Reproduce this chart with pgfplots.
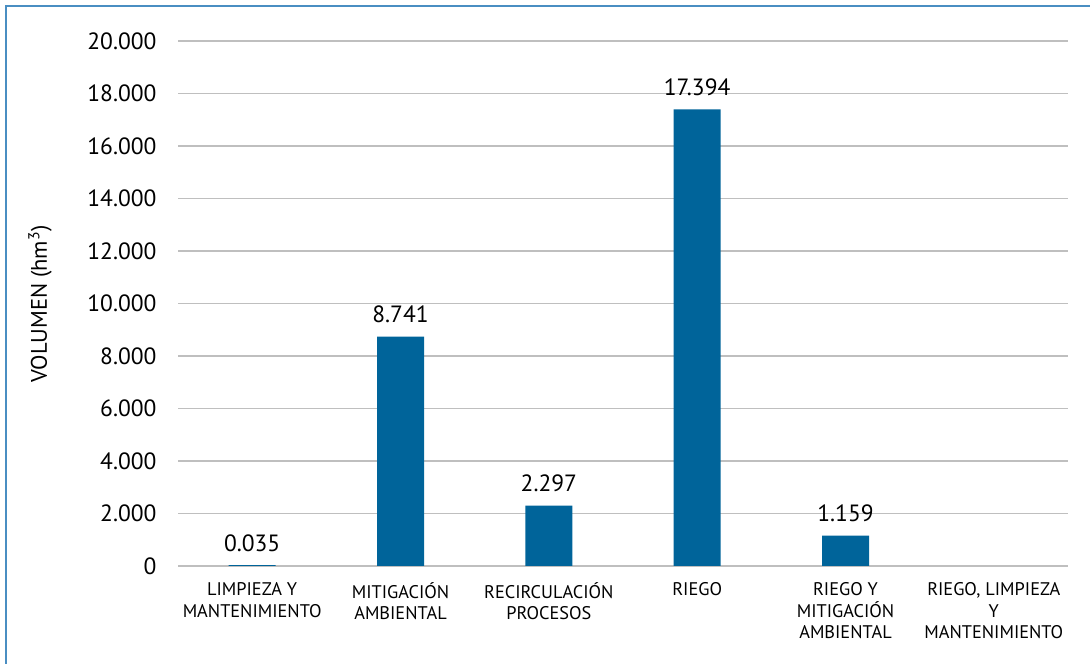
\documentclass[border=0pt]{standalone}
\usepackage{fontspec}
\setmainfont{PT Sans}
\usepackage{pgfplots}
\pgfplotsset{compat=1.18}
\definecolor{barblue}{HTML}{00649A}
\definecolor{gridgray}{HTML}{BFBFBF}
\definecolor{framecol}{HTML}{4A8EC2}

\begin{document}
\begin{tikzpicture}
\useasboundingbox (0,0) rectangle (1090bp,664bp);
\draw[framecol, line width=2bp] (6bp,0) -- (6bp,658bp) -- (1090bp,658bp);
\begin{axis}[
    at={(178bp,98bp)}, anchor=south west,
    scale only axis,
    width=890bp, height=525bp,
    ybar, bar width=47bp,
    xmin=-0.5, xmax=5.5,
    ymin=0, ymax=20000,
    xtick={0,1,2,3,4,5},
    xticklabels={LIMPIEZA Y\\MANTENIMIENTO, MITIGACIÓN\\AMBIENTAL, RECIRCULACIÓN\\PROCESOS, RIEGO, RIEGO Y\\MITIGACIÓN\\AMBIENTAL, {RIEGO, LIMPIEZA\\Y\\MANTENIMIENTO}},
    ytick={0,2000,...,20000},
    scaled y ticks=false,
    /pgf/number format/.cd, 1000 sep={.}, assume math mode=true, /pgfplots/.cd,
    axis line style={draw=none},
    major tick length=0pt,
    ymajorgrids,
    grid style={gridgray, line width=1.2bp},
    yticklabel style={font=\fontsize{23.5bp}{27bp}\selectfont, xshift=-18bp},
    xticklabel style={font=\fontsize{18.3bp}{21.5bp}\selectfont, align=center, anchor=north, yshift=-13bp},
    nodes near coords,
    point meta=explicit symbolic,
    every node near coord/.append style={font=\fontsize{23.5bp}{27bp}\selectfont, black, anchor=base, inner sep=0pt, yshift=14bp},
]
\addplot[fill=barblue, draw=none] coordinates {
    (0,35) [0.035]
    (1,8741) [8.741]
    (2,2297) [2.297]
    (3,17394) [17.394]
    (4,1159) [1.159]
};
\end{axis}
\node[rotate=90, font=\fontsize{22.5bp}{26bp}\selectfont] at (40bp,360bp) {VOLUMEN (hm\textsuperscript{3})};
\end{tikzpicture}
\end{document}
